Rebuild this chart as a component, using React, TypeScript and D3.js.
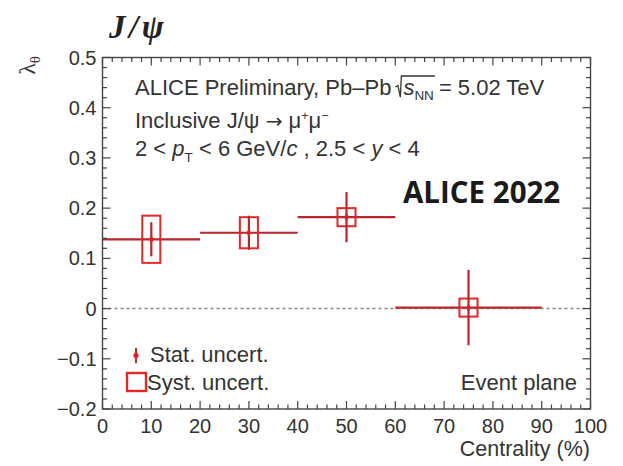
import React, { useEffect, useRef } from "react";
import * as d3 from "d3";

const W = 623;
const H = 466;

// Centrality bins and polarization parameter lambda_theta per bin
const binLow = [0, 20, 40, 60];
const binHigh = [20, 40, 60, 90];
const binCenter = [10, 30, 50, 75];
const lambdaTheta = [0.138, 0.151, 0.182, 0.002];
const statErr = [0.034, 0.034, 0.05, 0.075];
const systErr = [0.047, 0.031, 0.018, 0.018];

const xTickValues = [0, 10, 20, 30, 40, 50, 60, 70, 80, 90, 100];
const xTickLabels = ["0", "10", "20", "30", "40", "50", "60", "70", "80", "90", "100"];
const yTickValues = [-0.2, -0.1, 0, 0.1, 0.2, 0.3, 0.4, 0.5];
const yTickLabels = ["\u22120.2", "\u22120.1", "0", "0.1", "0.2", "0.3", "0.4", "0.5"];

const SANS = "'Liberation Sans', Arial, Helvetica, sans-serif";
const TXT = "#333";
const LINE_RED = "#b9262d";
const BOX_RED = "#e3282a";
const FS = 22;

export default function App() {
  const ref = useRef<SVGSVGElement | null>(null);

  useEffect(() => {
    const svg = d3.select(ref.current!);
    svg.selectAll("*").remove();

    const x = d3.scaleLinear().domain([0, 100]).range([102.5, 590.5]);
    const y = d3.scaleLinear().domain([-0.2, 0.5]).range([409, 57.5]);
    const boxHalf = 1.85; // half-width of systematic boxes in centrality units

    svg.append("rect").attr("width", W).attr("height", H).attr("fill", "#fff");

    // zero reference line
    svg.append("line")
      .attr("x1", x(0)).attr("x2", x(100))
      .attr("y1", y(0)).attr("y2", y(0))
      .attr("stroke", "#8c8c8c").attr("stroke-width", 1.6)
      .attr("stroke-dasharray", "3,3");

    const idx = d3.range(lambdaTheta.length);
    const g = svg.append("g");

    // bin-width horizontal lines
    g.selectAll("line.bin").data(idx).join("line")
      .attr("x1", (i) => x(binLow[i])).attr("x2", (i) => x(binHigh[i]))
      .attr("y1", (i) => y(lambdaTheta[i])).attr("y2", (i) => y(lambdaTheta[i]))
      .attr("stroke", LINE_RED).attr("stroke-width", 2.2);

    // systematic boxes
    g.selectAll("rect.syst").data(idx).join("rect")
      .attr("x", (i) => x(binCenter[i] - boxHalf))
      .attr("width", (i) => x(binCenter[i] + boxHalf) - x(binCenter[i] - boxHalf))
      .attr("y", (i) => y(lambdaTheta[i] + systErr[i]))
      .attr("height", (i) => y(lambdaTheta[i] - systErr[i]) - y(lambdaTheta[i] + systErr[i]))
      .attr("fill", "none").attr("stroke", BOX_RED).attr("stroke-width", 2);

    // statistical error bars
    g.selectAll("line.stat").data(idx).join("line")
      .attr("x1", (i) => x(binCenter[i])).attr("x2", (i) => x(binCenter[i]))
      .attr("y1", (i) => y(lambdaTheta[i] + statErr[i]))
      .attr("y2", (i) => y(lambdaTheta[i] - statErr[i]))
      .attr("stroke", LINE_RED).attr("stroke-width", 2.2);

    // markers
    g.selectAll("path.mk").data(idx).join("path")
      .attr("d", d3.symbol(d3.symbolDiamond, 22)() as string)
      .attr("transform", (i) => `translate(${x(binCenter[i])},${y(lambdaTheta[i])})`)
      .attr("fill", "#d8262a");

    // frame
    svg.append("rect")
      .attr("x", x(0)).attr("y", y(0.5))
      .attr("width", x(100) - x(0)).attr("height", y(-0.2) - y(0.5))
      .attr("fill", "none").attr("stroke", "#444").attr("stroke-width", 1.4);

    // ticks (inside, mirrored on all sides)
    const tk = svg.append("g").attr("stroke", "#444").attr("stroke-width", 1.2);
    d3.range(0, 51).forEach((k) => {
      const v = k * 2;
      const len = v % 10 === 0 ? 8 : 4.5;
      tk.append("line").attr("x1", x(v)).attr("x2", x(v)).attr("y1", y(-0.2)).attr("y2", y(-0.2) - len);
      tk.append("line").attr("x1", x(v)).attr("x2", x(v)).attr("y1", y(0.5)).attr("y2", y(0.5) + len);
    });
    d3.range(-10, 26).forEach((k) => {
      const v = k * 0.02;
      const len = k % 5 === 0 ? 8 : 4.5;
      tk.append("line").attr("y1", y(v)).attr("y2", y(v)).attr("x1", x(0)).attr("x2", x(0) + len);
      tk.append("line").attr("y1", y(v)).attr("y2", y(v)).attr("x1", x(100)).attr("x2", x(100) - len);
    });

    // tick labels
    svg.append("g").selectAll("text").data(xTickValues).join("text")
      .attr("x", (d) => x(d)).attr("y", 433)
      .attr("text-anchor", "middle")
      .attr("font-family", SANS).attr("font-size", 20).attr("fill", TXT)
      .text((d, i) => xTickLabels[i]);
    svg.append("g").selectAll("text").data(yTickValues).join("text")
      .attr("x", 96.5).attr("y", (d) => y(d) + 7)
      .attr("text-anchor", "end")
      .attr("font-family", SANS).attr("font-size", 20).attr("fill", TXT)
      .text((d, i) => yTickLabels[i]);

    // axis titles
    svg.append("text")
      .attr("x", 590).attr("y", 456).attr("text-anchor", "end")
      .attr("font-family", SANS).attr("font-size", 21.5).attr("fill", TXT)
      .text("Centrality (%)");
    const yl = svg.append("text")
      .attr("transform", "translate(35,56) rotate(-90)")
      .attr("text-anchor", "end")
      .attr("font-family", "'Liberation Serif', 'Times New Roman', serif")
      .attr("font-size", 24).attr("fill", TXT);
    yl.append("tspan").text("\u03bb");
    yl.append("tspan").attr("font-size", 15).attr("dy", 5).text("\u03b8");

    // title
    svg.append("text")
      .attr("x", 109).attr("y", 38)
      .attr("font-family", "'Liberation Serif', 'Times New Roman', serif")
      .attr("font-style", "italic").attr("font-weight", "bold")
      .attr("font-size", 33).attr("fill", "#222")
      .attr("letter-spacing", 3.5)
      .text("J/\u03c8");

    // text block
    const tx = 135;
    const t1 = svg.append("text").attr("x", tx).attr("y", 95)
      .attr("font-family", SANS).attr("font-size", FS).attr("fill", TXT)
      .text("ALICE Preliminary, Pb\u2013Pb");
    const w1 = (t1.node() as SVGTextElement).getComputedTextLength();
    const r0 = tx + w1 + 4;
    const sq = svg.append("text").attr("x", r0 + 8).attr("y", 95)
      .attr("font-family", SANS).attr("font-size", FS).attr("fill", TXT);
    sq.append("tspan").attr("font-style", "italic").text("s");
    sq.append("tspan").attr("font-size", 13.5).attr("dy", 5).text("NN");
    const wsq = (sq.node() as SVGTextElement).getComputedTextLength();
    const r1 = r0 + 8 + wsq + 1;
    svg.append("path")
      .attr("d", `M${r0},${95 - 8} L${r0 + 2.5},${95 - 9.5} L${r0 + 5},${95 + 2} L${r0 + 6},${95 - 19} L${r1},${95 - 19}`)
      .attr("fill", "none").attr("stroke", TXT).attr("stroke-width", 1.3);
    svg.append("text").attr("x", r1 + 4).attr("y", 95)
      .attr("font-family", SANS).attr("font-size", FS).attr("fill", TXT)
      .text("= 5.02 TeV");

    const t2 = svg.append("text").attr("x", tx).attr("y", 128)
      .attr("font-family", SANS).attr("font-size", FS).attr("fill", TXT);
    t2.append("tspan").text("Inclusive J/\u03c8 ");
    t2.append("tspan").attr("font-family", "'DejaVu Sans', sans-serif").attr("font-size", 20).text("\u2192");
    t2.append("tspan").text(" \u03bc");
    t2.append("tspan").attr("font-size", 12.5).attr("dy", -8).text("+");
    t2.append("tspan").attr("dy", 8).text("\u03bc");
    t2.append("tspan").attr("font-size", 12.5).attr("dy", -8).text("\u2212");

    const t3 = svg.append("text").attr("x", tx).attr("y", 156)
      .attr("font-family", SANS).attr("font-size", FS).attr("fill", TXT);
    t3.append("tspan").text("2 < ");
    t3.append("tspan").attr("font-style", "italic").text("p");
    t3.append("tspan").attr("font-size", 13.5).attr("dy", 6).text("T");
    t3.append("tspan").attr("dy", -6).text(" < 6 GeV/");
    t3.append("tspan").attr("font-style", "italic").text("c");
    t3.append("tspan").text(" , 2.5 < ");
    t3.append("tspan").attr("font-style", "italic").text("y");
    t3.append("tspan").text(" < 4");

    svg.append("text").attr("x", 403).attr("y", 203)
      .attr("font-family", "'Open Sans', Lato, sans-serif").attr("font-weight", 700)
      .attr("font-size", 29.5).attr("fill", "#1a1a1a")
      .text("ALICE 2022");

    // legend
    svg.append("line").attr("x1", 136).attr("x2", 136).attr("y1", 348).attr("y2", 363)
      .attr("stroke", LINE_RED).attr("stroke-width", 2);
    svg.append("path").attr("d", d3.symbol(d3.symbolDiamond, 30)() as string)
      .attr("transform", "translate(136,355.5)").attr("fill", "#d8262a");
    svg.append("text").attr("x", 150).attr("y", 362)
      .attr("font-family", SANS).attr("font-size", FS).attr("fill", TXT)
      .text("Stat. uncert.");
    svg.append("rect").attr("x", 127).attr("y", 373).attr("width", 19).attr("height", 18)
      .attr("fill", "none").attr("stroke", BOX_RED).attr("stroke-width", 2.4);
    svg.append("text").attr("x", 147).attr("y", 390)
      .attr("font-family", SANS).attr("font-size", FS).attr("fill", TXT)
      .text("Syst. uncert.");
    svg.append("text").attr("x", 577).attr("y", 390).attr("text-anchor", "end")
      .attr("font-family", SANS).attr("font-size", FS).attr("fill", TXT)
      .text("Event plane");
  }, []);

  return (
    <svg
      ref={ref}
      width={W}
      height={H}
      style={{ position: "absolute", left: 0, top: 0, display: "block" }}
    />
  );
}
